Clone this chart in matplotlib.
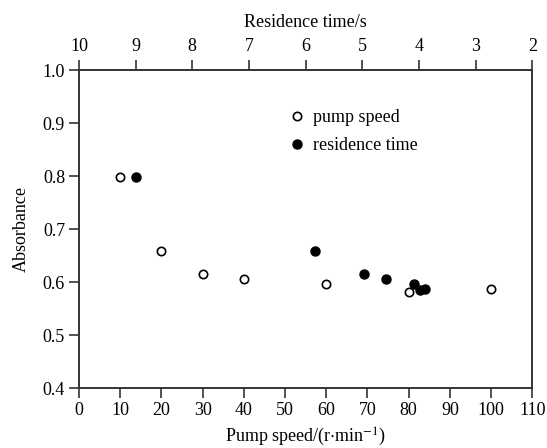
import numpy as np
import matplotlib.pyplot as plt

plt.rcParams['font.family'] = ['Liberation Serif', 'DejaVu Serif']
plt.rcParams['font.size'] = 13
plt.rcParams['mathtext.fontset'] = 'stix'

# pump speed series (bottom axis)
pump_speed = [10, 20, 30, 40, 60, 80, 100]
pump_abs = [0.798, 0.659, 0.616, 0.606, 0.596, 0.582, 0.587]

# residence time series (top axis)
res_time = [9.0, 5.83, 4.97, 4.59, 4.09, 3.98, 3.90]
res_abs = [0.798, 0.659, 0.616, 0.606, 0.596, 0.585, 0.586]

pump_ticks = np.arange(0, 111, 10)
time_ticks = [10, 9, 8, 7, 6, 5, 4, 3, 2]
abs_ticks = [0.4, 0.5, 0.6, 0.7, 0.8, 0.9, 1.0]

fig = plt.figure(figsize=(5.47, 4.48), dpi=100)
ax = fig.add_axes([0.1444, 0.1339, 0.8287, 0.7098])
ax2 = ax.twiny()

line_col = '#333333'
h1, = ax.plot(pump_speed, pump_abs, 'o', ms=6, mfc='white', mec='black',
              mew=1.2, ls='none', label='pump speed')
h2, = ax2.plot(res_time, res_abs, 'o', ms=6.5, mfc='black', mec='black',
               ls='none', label='residence time')

ax.set_xlim(0, 110)
ax.set_ylim(0.4, 1.0)
ax.set_xticks(pump_ticks)
ax.set_yticks(abs_ticks)
ax.set_yticklabels([f'{v:.1f}' for v in abs_ticks])
ax2.set_xlim(10, 2)
ax2.set_xticks(time_ticks)

ax.set_xlabel(r'Pump speed/(r$\cdot$min$^{-1}$)', labelpad=5)
ax.set_ylabel('Absorbance', labelpad=9)
ax2.set_xlabel('Residence time/s', labelpad=8)

for a in (ax, ax2):
    for s in a.spines.values():
        s.set_color(line_col)
        s.set_linewidth(1.2)
    a.tick_params(direction='out', length=7, width=1.2, color=line_col, pad=3)
ax.tick_params(axis='y', right=False)
ax2.tick_params(axis='x', pad=4)

ax2.legend(handles=[h1, h2], loc='upper left', bbox_to_anchor=(0.437, 0.917),
           frameon=False, handlelength=0.8, handletextpad=0.5,
           labelspacing=0.6, borderaxespad=0.3)

fig.savefig('out.png', dpi=100)
